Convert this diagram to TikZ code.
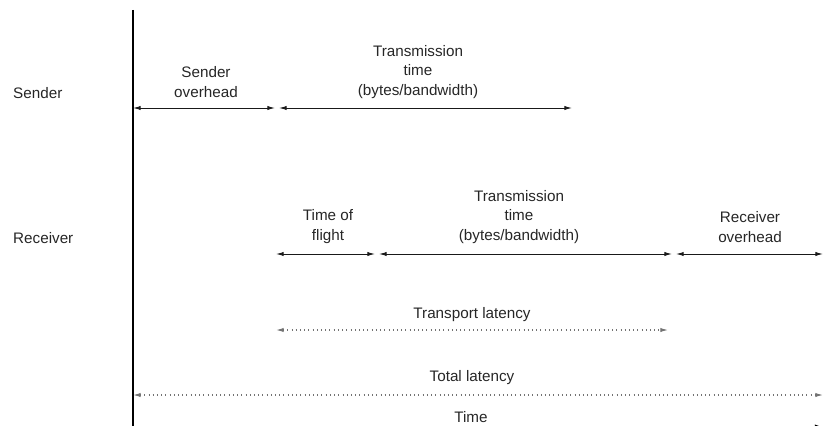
\documentclass[tikz,border=0pt]{standalone}
\usepackage{fontspec}
\setmainfont{Liberation Sans}
\usetikzlibrary{arrows.meta}
\begin{document}
\begin{tikzpicture}[x=0.03cm,y=-0.03cm,
  lbl/.style={font=\fontsize{13}{17}\selectfont,text=black!85,align=center,inner sep=0pt},
  dur/.style={{Latex[length=6.5pt,width=3.6pt]}-{Latex[length=6.5pt,width=3.6pt]},line width=0.8pt,black!90},
  lat/.style={{Latex[length=6.5pt,width=3.6pt]}-{Latex[length=6.5pt,width=3.6pt]},line width=0.9pt,dash pattern=on 0.8pt off 2.8pt,black!55},
  axis/.style={line width=0.9pt,black}]
\useasboundingbox (0,0) rectangle (823,425);
% axes
\coordinate (vtop) at (133,10);
\coordinate (vbot) at (133,440);
\draw[axis] (vtop) -- (vbot);
\coordinate (tl) at (133,427);
\coordinate (tr) at (823,427);
\draw[axis,-{Latex[length=7pt,width=4.5pt]}] (tl) -- (tr);
% row labels
\node[lbl,anchor=west] (sender) at (13,93) {Sender};
\node[lbl,anchor=west] (receiver) at (13,238) {Receiver};
% sender row
\coordinate (s0) at (133,108);
\coordinate (s1) at (275,108);
\coordinate (s2) at (279,108);
\coordinate (s3) at (572,108);
\draw[dur] (s0) -- (s1);
\draw[dur] (s2) -- (s3);
\node[lbl] (sov) at (206,82) {Sender\\overhead};
\node[lbl] (stt) at (418,72) {Transmission\\time\\(bytes/bandwidth)};
% receiver row
\coordinate (r0) at (276,254);
\coordinate (r1) at (375,254);
\coordinate (r2) at (379,254);
\coordinate (r3) at (672,254);
\coordinate (r4) at (676,254);
\coordinate (r5) at (823,254);
\draw[dur] (r0) -- (r1);
\draw[dur] (r2) -- (r3);
\draw[dur] (r4) -- (r5);
\node[lbl] (tof) at (328,227) {Time of\\flight};
\node[lbl] (rtt) at (519,217) {Transmission\\time\\(bytes/bandwidth)};
\node[lbl] (rov) at (750,227) {Receiver\\overhead};
% latencies
\coordinate (t0) at (276,330);
\coordinate (t1) at (668,330);
\draw[lat] (t0) -- (t1);
\node[lbl] (tlat) at (472,315) {Transport latency};
\coordinate (a0) at (133,395);
\coordinate (a1) at (823,395);
\draw[lat] (a0) -- (a1);
\node[lbl] (totlat) at (472,378) {Total latency};
\node[lbl] (time) at (471,417) {Time};
\end{tikzpicture}
\end{document}
